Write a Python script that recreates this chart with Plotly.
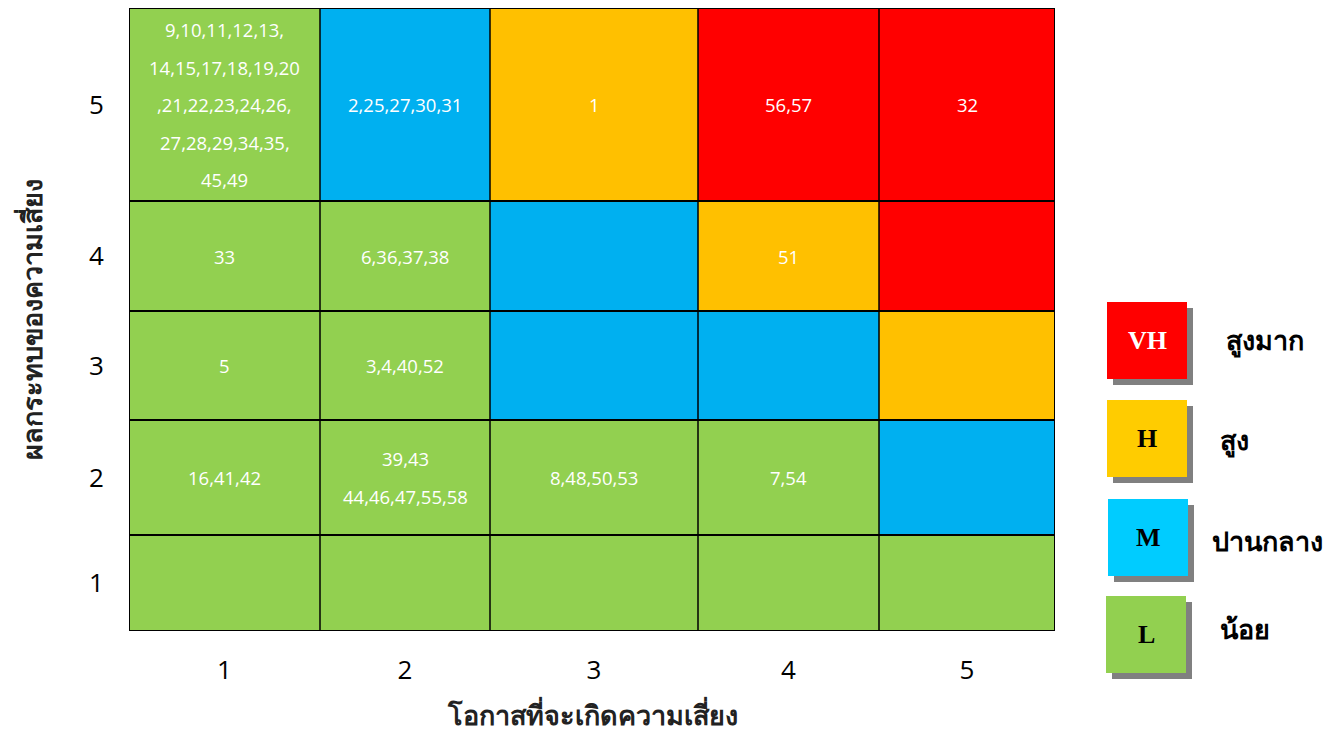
import plotly.graph_objects as go

# ---------------- data ----------------
likelihood = [1, 2, 3, 4, 5]          # columns (x)
impact = [1, 2, 3, 4, 5]              # rows (y), bottom -> top
# risk level codes per cell: 0=L, 1=M, 2=H, 3=VH ; rows bottom->top
risk_level = [
    [0, 0, 0, 0, 0],
    [0, 0, 0, 0, 1],
    [0, 0, 1, 1, 2],
    [0, 0, 1, 2, 3],
    [0, 1, 2, 3, 3],
]
cell_text = [
    ["", "", "", "", ""],
    ["16,41,42", "39,43<br>44,46,47,55,58", "8,48,50,53", "7,54", ""],
    ["5", "3,4,40,52", "", "", ""],
    ["33", "6,36,37,38", "", "51", ""],
    ["9,10,11,12,13,<br>14,15,17,18,19,20<br>,21,22,23,24,26,<br>27,28,29,34,35,<br>45,49",
     "2,25,27,30,31", "1", "56,57", "32"],
]
legend_codes = ["VH", "H", "M", "L"]
legend_names = ["สูงมาก", "สูง", "ปานกลาง", "น้อย"]
x_title = "โอกาสที่จะเกิดความเสี่ยง"
y_title = "ผลกระทบของความเสี่ยง"

# ---------------- styling / layout ----------------
level_colors = ["#92D050", "#00B0F0", "#FFC000", "#FF0000"]
legend_colors = ["#FF0000", "#FFCC00", "#00CCFF", "#92D050"]
legend_code_colors = ["white", "black", "black", "black"]
col_edges = [0, 191, 361, 569, 750, 926]   # cell boundaries (pixel-like units)
row_edges = [0, 96, 211, 320, 430, 623]

W, H = 1336, 733
ML, MR, MT, MB = 129, 281, 8, 102
PW, PH = W - ML - MR, H - MT - MB

def px(xp):
    return (xp - ML) / PW

def py(yp):
    return (H - MB - yp) / PH

n = len(level_colors)
cs = []
for i, c in enumerate(level_colors):
    cs.append([i / n, c])
    cs.append([(i + 1) / n, c])

fig = go.Figure()
fig.add_trace(go.Heatmap(
    z=risk_level, x=col_edges, y=row_edges,
    colorscale=cs, zmin=-0.5, zmax=n - 0.5, showscale=False,
    hoverinfo="skip",
))

xc = [(col_edges[i] + col_edges[i + 1]) / 2 for i in range(5)]
yc = [(row_edges[i] + row_edges[i + 1]) / 2 for i in range(5)]

ann = []
cell_font = dict(family="Open Sans, Noto Sans, sans-serif", size=18.5, color="white")
for r in range(5):
    for c in range(5):
        t = cell_text[r][c]
        if not t:
            continue
        lines = t.split("<br>")
        m = len(lines)
        for k, line in enumerate(lines):
            ann.append(dict(x=xc[c], y=yc[r], xref="x", yref="y", text=line,
                            xanchor="center", yanchor="middle",
                            showarrow=False, font=cell_font,
                            yshift=-(k - (m - 1) / 2) * 37.5))

shapes = []
for e in col_edges[1:-1]:
    shapes.append(dict(type="line", xref="x", yref="y", x0=e, x1=e, y0=0, y1=row_edges[-1],
                       line=dict(color="black", width=1.5)))
for e in row_edges[1:-1]:
    shapes.append(dict(type="line", xref="x", yref="y", y0=e, y1=e, x0=0, x1=col_edges[-1],
                       line=dict(color="black", width=2)))
shapes.append(dict(type="rect", xref="x", yref="y", x0=0, x1=col_edges[-1], y0=0, y1=row_edges[-1],
                   line=dict(color="black", width=2), fillcolor="rgba(0,0,0,0)"))

# legend boxes
box_top = [302, 400, 499, 596]
box_left = [1107, 1107, 1108, 1106]
box_w, box_h = 80, 77
label_y = [342, 442, 542, 630]
label_x = [1224, 1218, 1210, 1218]
for i in range(4):
    x0, y0 = box_left[i], box_top[i]
    shapes.append(dict(type="rect", xref="paper", yref="paper",
                       x0=px(x0 + 6), x1=px(x0 + box_w + 6), y0=py(y0 + box_h + 6), y1=py(y0 + 6),
                       line=dict(width=0), fillcolor="#808080"))
    shapes.append(dict(type="rect", xref="paper", yref="paper",
                       x0=px(x0), x1=px(x0 + box_w), y0=py(y0 + box_h), y1=py(y0),
                       line=dict(width=0), fillcolor=legend_colors[i]))
    ann.append(dict(x=px(x0 + box_w / 2), y=py(y0 + box_h / 2), xref="paper", yref="paper",
                    xanchor="center", yanchor="middle",
                    text="<b>%s</b>" % legend_codes[i], showarrow=False,
                    font=dict(family="Liberation Serif, serif", size=26, color=legend_code_colors[i])))
    ann.append(dict(x=px(label_x[i]), y=py(label_y[i]), xref="paper", yref="paper",
                    xanchor="left", yanchor="middle", text="<b>%s</b>" % legend_names[i], showarrow=False,
                    font=dict(family="Liberation Serif, serif", size=27, color="black")))

# axis titles
ann.append(dict(x=px(592), y=py(714), xref="paper", yref="paper", text="<b>%s</b>" % x_title,
                xanchor="center", yanchor="middle",
                showarrow=False, font=dict(family="Noto Sans, sans-serif", size=27, color="#222")))
ann.append(dict(x=px(31), y=py(320), xref="paper", yref="paper", text="<b>%s</b>" % y_title,
                xanchor="center", yanchor="middle",
                textangle=-90, showarrow=False,
                font=dict(family="Noto Sans, sans-serif", size=27, color="#222")))

fig.update_layout(
    width=W, height=H,
    margin=dict(l=ML, r=MR, t=MT, b=MB),
    paper_bgcolor="white", plot_bgcolor="white",
    shapes=shapes, annotations=ann,
    xaxis=dict(range=[0, col_edges[-1]], tickvals=xc, ticktext=[str(v) for v in likelihood],
               showgrid=False, zeroline=False, ticks="outside", ticklen=16,
               tickcolor="rgba(0,0,0,0)", tickfont=dict(family="Open Sans, sans-serif", size=26, color="black"),
               fixedrange=True),
    yaxis=dict(range=[0, row_edges[-1]], tickvals=yc, ticktext=[str(v) for v in impact],
               showgrid=False, zeroline=False, ticks="outside", ticklen=19,
               tickcolor="rgba(0,0,0,0)", tickfont=dict(family="Open Sans, sans-serif", size=26, color="black"),
               fixedrange=True),
)

fig.write_html("out.html")
